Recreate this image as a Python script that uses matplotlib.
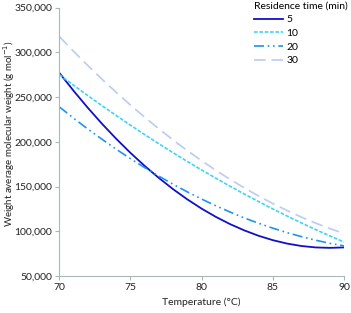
import matplotlib
matplotlib.use("Agg")
import matplotlib.pyplot as plt
from matplotlib.ticker import FuncFormatter, MultipleLocator

temperature = [70, 71, 72, 73, 74, 75, 76, 77, 78, 79, 80,
               81, 82, 83, 84, 85, 86, 87, 88, 89, 90]

mw_5 = [277000, 257000, 238000, 220100, 203300, 187600, 173000, 159500, 147000, 135600, 125300,
        116100, 108000, 101000, 95000, 90100, 86300, 83600, 82000, 81500, 82000]
mw_10 = [275000, 263200, 251600, 240300, 229300, 218500, 208000, 197700, 187700, 178000, 168500,
         159300, 150300, 141600, 133200, 125000, 117100, 109400, 102000, 94900, 88000]
mw_20 = [239000, 226400, 214300, 202800, 191700, 181100, 171100, 161600, 152500, 144000, 136000,
         128500, 121500, 114900, 109000, 103500, 98500, 94100, 90100, 86600, 83700]
mw_30 = [317500, 301100, 285200, 269900, 255200, 241000, 227400, 214400, 201900, 190100, 178800,
         168100, 158000, 148500, 139400, 131000, 123200, 115900, 109200, 103100, 97500]

series_labels = ["5", "10", "20", "30"]

plt.rcParams['font.family'] = ['Lato', 'DejaVu Sans']

fig = plt.figure(figsize=(3.51, 3.13), dpi=100)
ax = fig.add_axes([0.169, 0.118, 0.811, 0.858])

ax.plot(temperature, mw_5, color="#1010C8", lw=1.3, linestyle="-", label=series_labels[0])
ax.plot(temperature, mw_10, color="#40D4F4", lw=1.2, linestyle=(0, (2.2, 1.0)), label=series_labels[1])
ax.plot(temperature, mw_20, color="#1E94EE", lw=1.2, linestyle=(0, (6, 2.2, 1, 2.2, 1, 2.2)), label=series_labels[2])
ax.plot(temperature, mw_30, color="#BCCBF0", lw=1.2, linestyle=(0, (7, 3.5)), label=series_labels[3])

ax.set_xlim(70, 90)
ax.set_ylim(50000, 350000)
ax.xaxis.set_major_locator(MultipleLocator(5))
ax.yaxis.set_major_locator(MultipleLocator(50000))
ax.yaxis.set_major_formatter(FuncFormatter(lambda v, p: f"{int(v):,}"))

for s in ["top", "right"]:
    ax.spines[s].set_visible(False)
for s in ["left", "bottom"]:
    ax.spines[s].set_color("#A8B8B8")
    ax.spines[s].set_linewidth(0.8)
ax.tick_params(axis="both", direction="out", length=3, width=0.8, color="#A8B8B8",
               labelsize=7.5, labelcolor="#222222", pad=2)

ax.set_xlabel("Temperature (°C)", fontsize=7.5, color="#222222", labelpad=4)
ax.set_ylabel("Weight average molecular weight (g mol$^{-1}$)", fontsize=7.0, color="#222222")
ax.yaxis.set_label_coords(-0.150, 0.53)

leg = ax.legend(title="Residence time (min)", loc="upper right", bbox_to_anchor=(1.035, 1.045),
                frameon=False, fontsize=7.5, title_fontsize=7.5, handlelength=2.8,
                handletextpad=0.3, labelspacing=0.42, borderaxespad=0.2)
leg._legend_box.align = "left"

fig.savefig("out.png", dpi=100)
